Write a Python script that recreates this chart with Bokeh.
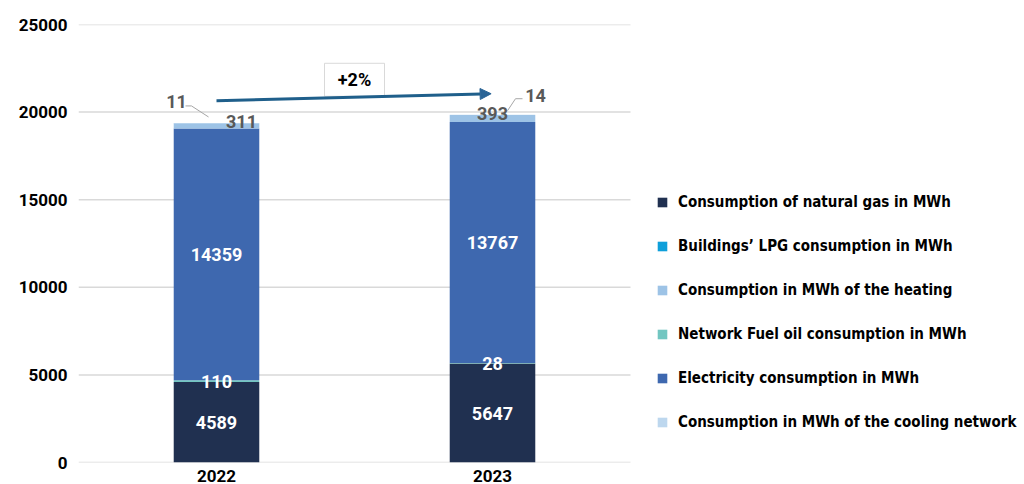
from bokeh.plotting import figure
from bokeh.models import (Legend, LegendItem, FixedTicker, Arrow, NormalHead,
                          ColumnDataSource, Range1d)
from bokeh.embed import file_html
from bokeh.resources import INLINE
from bokeh.core.properties import value

# ---------------- data ----------------
years = ["2022", "2023"]
natural_gas = [4589, 5647]
lpg = [0, 0]
fuel_oil = [110, 28]
electricity = [14359, 13767]
heating = [311, 393]
cooling = [11, 14]
y_ticks = [0, 5000, 10000, 15000, 20000, 25000]
change_label = "+2%"

series_keys = ["gas", "lpg", "fuel", "elec", "heat", "cool"]
series_names = {
    "gas": "Consumption of natural gas in MWh",
    "lpg": "Buildings\u2019 LPG consumption in MWh",
    "heat": "Consumption in MWh of the heating",
    "fuel": "Network Fuel oil consumption in MWh",
    "elec": "Electricity consumption in MWh",
    "cool": "Consumption in MWh of the cooling network",
}
colors = {
    "gas": "#203050",
    "lpg": "#0E9FDA",
    "heat": "#9DC3E6",
    "fuel": "#72C6C1",
    "elec": "#3E68AF",
    "cool": "#BDD7EE",
}
legend_order = ["gas", "lpg", "heat", "fuel", "elec", "cool"]

FONT = "Roboto"
LFONT = "DejaVu Sans Condensed"

W, H = 1024, 484
LEFT, TOP = 78, 24
CAT_W = 276.0            # pixel width of one category slot
FRAME_W = W - LEFT
FRAME_H = 437

xs = [i + 0.5 for i in range(len(years))]
data = dict(x=xs, gas=natural_gas, lpg=lpg, fuel=fuel_oil, elec=electricity,
            heat=heating, cool=cooling)
src = ColumnDataSource(data)

p = figure(width=W, height=H, output_backend="svg", toolbar_location=None,
           x_range=Range1d(0, FRAME_W / CAT_W), y_range=Range1d(0, 25000),
           min_border_left=LEFT, min_border_right=0, min_border_top=TOP,
           min_border_bottom=0)
p.outline_line_color = None
p.background_fill_color = "white"

# grid lines only across the bar area
p.xgrid.grid_line_color = None
p.ygrid.grid_line_color = None
p.segment(x0=[0] * len(y_ticks), x1=[len(years)] * len(y_ticks),
          y0=y_ticks, y1=y_ticks, line_color="#D9D9D9", line_width=1.5)

renderers = p.vbar_stack(series_keys, x="x", width=0.31, source=src,
                         color=[colors[k] for k in series_keys], line_width=0)
rmap = dict(zip(series_keys, renderers))

# axes
p.xaxis.ticker = FixedTicker(ticks=xs)
p.xaxis.major_label_overrides = {x: y for x, y in zip(xs, years)}
p.yaxis.ticker = FixedTicker(ticks=y_ticks)
for ax in (p.xaxis[0], p.yaxis[0]):
    ax.axis_line_color = None
    ax.major_tick_line_color = None
    ax.minor_tick_line_color = None
    ax.major_label_text_font = FONT
    ax.major_label_text_font_style = "bold"
    ax.major_label_text_font_size = "17px"
    ax.major_label_text_color = "#000000"
p.xaxis.major_label_standoff = 1
p.yaxis.major_label_standoff = 5

# ---------------- segment labels ----------------
cum = [0.0] * len(years)
centers = {}
for k in series_keys:
    vals = data[k]
    centers[k] = [c + v / 2 for c, v in zip(cum, vals)]
    cum = [c + v for c, v in zip(cum, vals)]
totals = cum

def seg_labels(key, color, xoff=None, yoff=None):
    n = len(years)
    s = ColumnDataSource(dict(
        x=xs, y=centers[key], t=[str(v) for v in data[key]],
        xo=xoff if xoff is not None else [0] * n,
        yo=yoff if yoff is not None else [0] * n))
    p.text(x="x", y="y", text="t", source=s, x_offset="xo", y_offset="yo",
           text_align="center", text_baseline="middle",
           text_font=value(FONT), text_font_style="bold",
           text_font_size="18px", text_color=color)

seg_labels("gas", "white")
seg_labels("elec", "white")
seg_labels("fuel", "white")
seg_labels("heat", "#595959", xoff=[25, 0], yoff=[-4, -5])

# cooling labels placed near top of bar with leader lines
cs = ColumnDataSource(dict(x=xs, y=totals, t=[str(v) for v in cooling],
                           xo=[-40, 43], yo=[-21, -19]))
p.text(x="x", y="y", text="t", source=cs, x_offset="xo", y_offset="yo",
       text_align="center", text_baseline="middle",
       text_font=value(FONT), text_font_style="bold",
       text_font_size="18px", text_color="#595959")

px_x = 1.0 / CAT_W
px_y = 25000 / float(FRAME_H)
leaders_px = [[(-31, 17), (-25, 17), (-8, 6)], [(15, 4), (23, 16), (30, 16)]]
lx, ly = [], []
for i, pts in enumerate(leaders_px):
    lx.append([xs[i] + a * px_x for a, b in pts])
    ly.append([totals[i] + b * px_y for a, b in pts])
p.multi_line(xs=lx, ys=ly, line_color="#A6A6A6", line_width=1)

# ---------------- growth arrow ----------------
arrow = Arrow(end=NormalHead(size=11, fill_color="#2A6496", line_color="#2A6496"),
              x_start=xs[0], y_start=totals[0] + 1270,
              x_end=xs[1] - 0.005, y_end=totals[1] + 1200,
              line_color="#1F5F8B", line_width=3)
p.add_layout(arrow)

bx = (xs[0] + xs[1]) / 2
by = (totals[0] + totals[1]) / 2 + 2230
p.rect(x=[bx], y=[by], width=60, height=33, width_units="screen",
       height_units="screen", fill_color="white", line_color="#D9D9D9", line_width=1)
p.text(x=[bx], y=[by], text=[change_label], text_align="center",
       text_baseline="middle", text_font=value(FONT), text_font_style="bold",
       text_font_size="18px", text_color="#000000")

# ---------------- legend ----------------
items = [LegendItem(label=series_names[k], renderers=[rmap[k]]) for k in legend_order]
legend = Legend(items=items, location=(578, 30), orientation="vertical",
                glyph_width=12, glyph_height=12, label_standoff=10,
                label_height=20, spacing=24, padding=0, margin=0,
                border_line_alpha=0, background_fill_alpha=0,
                label_text_font=LFONT, label_text_font_style="bold",
                label_text_font_size="15px", label_text_color="#000000",
                label_text_baseline="middle")
p.add_layout(legend, "center")

open("out.html", "w").write(file_html(p, INLINE))
